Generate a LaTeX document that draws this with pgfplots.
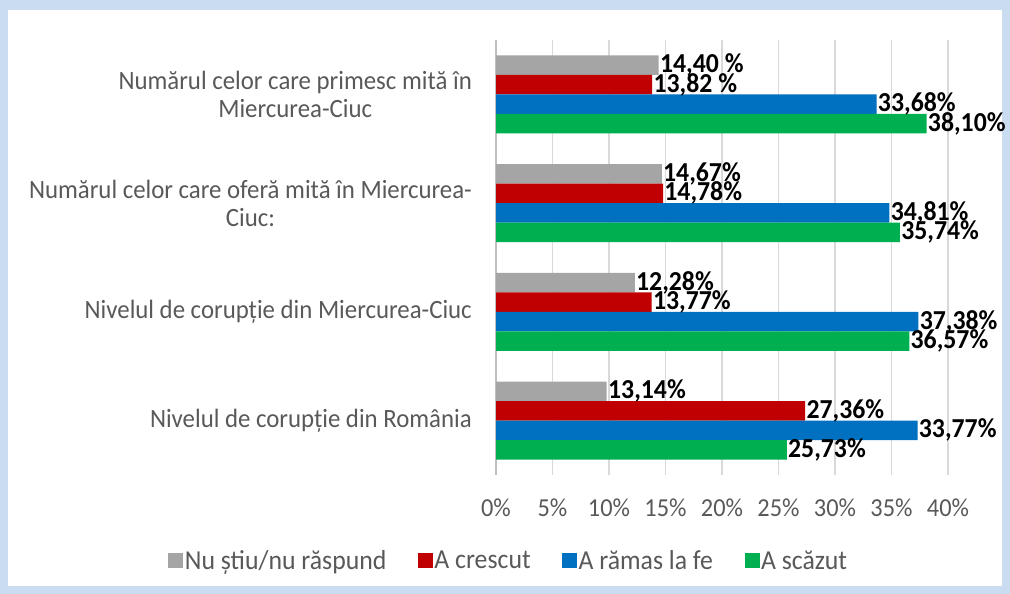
\documentclass[border=0pt]{standalone}
\usepackage{fontspec}
\setmainfont{Carlito}[FakeStretch=0.94]
\usepackage{pgfplots}
\pgfplotsset{compat=1.18}
\definecolor{cgray}{HTML}{A5A5A5}
\definecolor{cred}{HTML}{C00000}
\definecolor{cblue}{HTML}{0070C0}
\definecolor{cgreen}{HTML}{00B050}
\definecolor{ctext}{HTML}{595959}
\definecolor{cgrid}{HTML}{D9D9D9}
\definecolor{caxis}{HTML}{BFBFBF}
\definecolor{cbg}{HTML}{C9DCF0}
\begin{document}
\begin{tikzpicture}[x=1bp,y=1bp]
\fill[cbg] (0,0) rectangle (1010,594);
\fill[white] (8,8) rectangle (1002,584);
\begin{axis}[
  at={(496bp,119bp)}, anchor=south west,
  scale only axis, width=452bp, height=435bp,
  xmin=0, xmax=40, ymin=-0.5, ymax=3.5,
  axis y line*=left, axis x line*=bottom,
  x axis line style={draw=none},
  y axis line style={draw=caxis, line width=1.2bp},
  xmajorgrids, grid style={draw=cgrid, line width=1.2bp},
  major tick length=0pt,
  xtick={0,5,10,15,20,25,30,35,40},
  xticklabels={0\%,5\%,10\%,15\%,20\%,25\%,30\%,35\%,40\%},
  xticklabel style={font=\fontsize{26}{28}\selectfont, text=ctext, inner sep=0pt, anchor=north, yshift=-24bp},
  ytick={0,1,2,3},
  yticklabels={{Nivelul de corupție din România},{Nivelul de corupție din Miercurea-Ciuc},{Numărul celor care oferă mită în Miercurea-\\Ciuc:},{Numărul celor care primesc mită în\\Miercurea-Ciuc}},
  yticklabel style={font=\fontsize{26.5}{28}\selectfont, text=ctext, align=center, inner sep=0pt, anchor=east, xshift=-24bp},
  xbar, bar width=19.5bp,
  clip=false,
  point meta=explicit symbolic,
  nodes near coords={\pgfplotspointmeta},
  every node near coord/.append style={font=\fontsize{27.5}{29}\selectfont\bfseries, text=black, anchor=west, inner sep=1.2bp},
  legend columns=4,
  legend image code/.code={\fill[#1,draw=none] (0bp,-7.5bp) rectangle (15bp,7.5bp);},
  legend style={at={(0.0277,-0.1966)}, anchor=center, draw=none, fill=none,
    font=\fontsize{27.5}{29}\selectfont, text=ctext,
    /tikz/every even column/.append style={column sep=30bp},
    nodes={inner sep=1.5bp}},
]
\addplot[fill=cgray, draw=none, bar shift=29.25bp] coordinates {(9.8,0) [13,14\%] (12.28,1) [12,28\%] (14.67,2) [14,67\%] (14.40,3) [14,40 \%]};
\addlegendentry{Nu știu/nu răspund}
\addplot[fill=cred, draw=none, bar shift=9.75bp] coordinates {(27.36,0) [27,36\%] (13.77,1) [13,77\%] (14.78,2) [14,78\%] (13.82,3) [13,82 \%]};
\addlegendentry{A crescut}
\addplot[fill=cblue, draw=none, bar shift=-9.75bp] coordinates {(37.3,0) [33,77\%] (37.38,1) [37,38\%] (34.81,2) [34,81\%] (33.68,3) [33,68\%]};
\addlegendentry{A rămas la fe}
\addplot[fill=cgreen, draw=none, bar shift=-29.25bp] coordinates {(25.73,0) [25,73\%] (36.57,1) [36,57\%] (35.74,2) [35,74\%] (38.10,3) [38,10\%]};
\addlegendentry{A scăzut}
\end{axis}
\pgfresetboundingbox
\useasboundingbox (0,0) rectangle (1010,594);
\end{tikzpicture}
\end{document}
